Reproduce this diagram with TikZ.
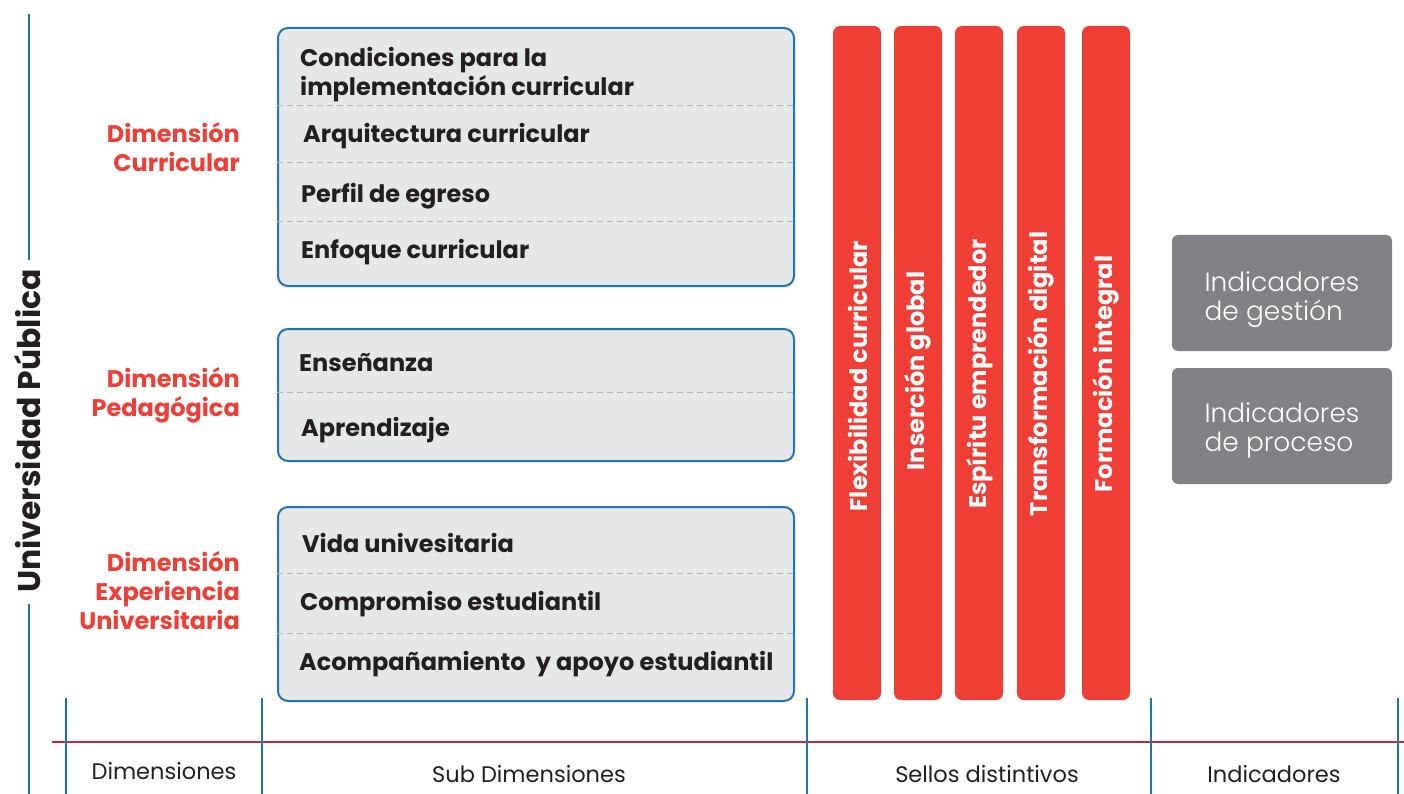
\documentclass[tikz,border=0pt]{standalone}
\usepackage{fontspec}
\setmainfont{Poppins}
\newfontfamily\poplight{Poppins Light}
\definecolor{myred}{HTML}{EF3E36}
\definecolor{myblue}{HTML}{1B75BC}
\definecolor{boxgrey}{HTML}{E6E7E8}
\definecolor{indgrey}{HTML}{808285}
\definecolor{txt}{HTML}{231F20}
\definecolor{axisred}{HTML}{C8243C}
\definecolor{dashgrey}{HTML}{B3B3B3}
\begin{document}
\begin{tikzpicture}[x=1pt,y=-1pt,
  redlabel/.style={font=\fontsize{24}{29}\selectfont\bfseries, text=myred, align=right, anchor=east, inner sep=0},
  subbox/.style={draw=myblue, line width=2pt, fill=boxgrey, rounded corners=10pt, anchor=north west, minimum width=516pt, inner sep=0},
  sep/.style={draw=dashgrey, line width=1pt, dash pattern=on 6pt off 4pt},
  item/.style={font=\fontsize{24}{29}\selectfont\bfseries, text=txt, anchor=west, align=left, inner sep=0},
  bar/.style={fill=myred, rounded corners=7pt, minimum width=48pt, minimum height=674pt, inner sep=0},
  bartext/.style={font=\fontsize{24}{28}\selectfont\bfseries, text=white, rotate=90, inner sep=0},
  indbox/.style={fill=indgrey, rounded corners=6pt, minimum width=220pt, minimum height=116pt, inner sep=0},
  indtext/.style={text=white, align=left, font=\fontsize{26.4}{29}\selectfont\poplight, inner sep=0},
  axlabel/.style={font=\fontsize{22.5}{26}\selectfont, text=txt, inner sep=0},
  blueline/.style={draw=myblue, line width=2pt},
  redaxis/.style={draw=axisred, line width=2pt}
]
\useasboundingbox (0,0) rectangle (1404,794);

% left axis
\coordinate (la1) at (29,14);
\coordinate (la2) at (29,260);
\coordinate (la3) at (29,604);
\coordinate (la4) at (29,794);
\draw[blueline] (la1) -- (la2);
\draw[blueline] (la3) -- (la4);
\node[font=\fontsize{31.4}{34}\selectfont\bfseries, text=txt, rotate=90, inner sep=0] (up) at (28,431) {Universidad Pública};

% dimension labels
\node[redlabel] (dc) at (240,147) {Dimensión\\Curricular};
\node[redlabel] (dp) at (240,395) {Dimensión\\Pedagógica};
\node[redlabel] (de) at (240,591) {Dimensión\\Experiencia\\Universitaria};

% box 1
\node[subbox, minimum height=258pt] (b1) at (277,27) {};
\draw[sep] (b1.west |- 0,106) -- (b1.east |- 0,106);
\draw[sep] (b1.west |- 0,163) -- (b1.east |- 0,163);
\draw[sep] (b1.west |- 0,222) -- (b1.east |- 0,222);
\node[item] (i1) at (300,74.5) {Condiciones para la\\implementación curricular};
\node[item] (i2) at (303,136.5) {Arquitectura curricular};
\node[item] (i3) at (301,196.5) {Perfil de egreso};
\node[item] (i4) at (301,252.5) {Enfoque curricular};

% box 2
\node[subbox, minimum height=132pt] (b2) at (277,328) {};
\draw[sep] (b2.west |- 0,392) -- (b2.east |- 0,392);
\node[item] (i5) at (299,363) {Enseñanza};
\node[item] (i6) at (301,430.5) {Aprendizaje};

% box 3
\node[subbox, minimum height=194pt] (b3) at (277,506) {};
\draw[sep] (b3.west |- 0,573) -- (b3.east |- 0,573);
\draw[sep] (b3.west |- 0,633) -- (b3.east |- 0,633);
\node[item] (i7) at (302,543) {Vida univesitaria};
\node[item] (i8) at (300,604) {Compromiso estudiantil};
\node[item] (i9) at (299,664.5) {Acompañamiento\ \ y apoyo estudiantil};

% red bars
\node[bar] (s1) at (857,363) {};
\node[bar] (s2) at (918,363) {};
\node[bar] (s3) at (979,363) {};
\node[bar] (s4) at (1041,363) {};
\node[bar] (s5) at (1106,363) {};
\node[bartext] (t1) at (858,376) {Flexibilidad curricular};
\node[bartext] (t2) at (918,371) {Inserción global};
\node[bartext] (t3) at (980,374) {Espíritu emprendedor};
\node[bartext] (t4) at (1041,374) {Transformación digital};
\node[bartext] (t5) at (1106,374) {Formación integral};

% indicator boxes
\node[indbox] (g1) at (1282,293) {};
\node[indtext] (g1t) at (g1.center) [yshift=-7pt] {Indicadores\\de gestión};
\node[indbox] (g2) at (1282,426) {};
\node[indtext] (g2t) at (g2.center) [yshift=-4pt] {Indicadores\\de proceso};

% bottom axis
\coordinate (ra1) at (52,742);
\coordinate (ra2) at (1404,742);
\draw[redaxis] (ra1) -- (ra2);
\foreach \x/\n in {66/k1,262/k2,807/k3,1151/k4,1398/k5}{
  \coordinate (\n a) at (\x,698);
  \coordinate (\n b) at (\x,794);
  \draw[blueline] (\n a) -- (\n b);
}
\node[axlabel] (l1) at (164,771) {Dimensiones};
\node[axlabel] (l2) at (529,774) {Sub Dimensiones};
\node[axlabel] (l3) at (987,774) {Sellos distintivos};
\node[axlabel] (l4) at (1274,774) {Indicadores};
\end{tikzpicture}
\end{document}
